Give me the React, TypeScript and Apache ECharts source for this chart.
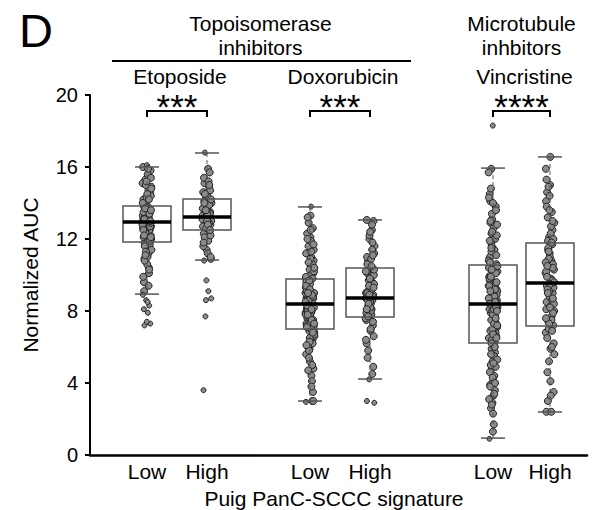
import React, { useEffect, useRef } from "react";
import * as echarts from "echarts";

// ---- Data -------------------------------------------------------------
const groupLabels = ["Low", "High", "Low", "High", "Low", "High"];
const groupPositions = [57, 117, 220, 280, 403, 460];
const drugNames = ["Etoposide", "Doxorubicin", "Vincristine"];
const significance = ["***", "***", "****"];
const yTicks = [0, 4, 8, 12, 16, 20];

// box statistics: lower whisker, Q1, median, Q3, upper whisker
const lowerWhisker = [8.94, 10.83, 3.0, 4.22, 0.94, 2.39];
const quartile1 = [11.83, 12.5, 7.0, 7.67, 6.22, 7.17];
const medians = [12.94, 13.22, 8.39, 8.72, 8.39, 9.56];
const quartile3 = [13.83, 14.22, 9.78, 10.39, 10.56, 11.78];
const upperWhisker = [16.0, 16.78, 13.78, 13.06, 15.94, 16.56];

const etoposideLow = [12.9, 13.4, 11.8, 14.6, 12.2, 13.1, 10.4, 15.3, 12.7, 13.8, 9.1, 12.5, 14.1, 13.3, 11.2, 12.8, 15.8, 13.6, 12.1, 8.3, 13.0, 14.9, 12.4, 10.9, 13.5, 12.6, 16.0, 11.5, 13.2, 14.4, 12.9, 9.6, 13.7, 12.3, 15.1, 11.9, 13.0, 7.3, 12.6, 14.2, 10.1, 13.4, 12.0, 15.6, 13.1, 11.7, 12.8, 8.9, 14.7, 13.3, 12.2, 10.6, 13.9, 12.5, 15.0, 11.4, 13.6, 7.2, 12.7, 14.3, 9.9, 13.2, 12.4, 15.4, 11.0, 13.8, 12.0, 8.6, 14.0, 13.0, 11.6, 12.9, 16.1, 13.5, 10.3, 12.3, 14.8, 7.9, 13.1, 11.9, 15.2, 12.6, 9.4, 13.7, 12.1, 14.5, 8.1, 13.4, 11.3, 12.8, 15.9, 10.8, 13.0, 7.4, 12.5, 14.2, 11.1, 13.6, 8.5, 12.2];
const etoposideHigh = [13.2, 14.0, 12.6, 15.1, 13.5, 11.4, 14.6, 12.9, 13.8, 10.9, 13.1, 15.4, 12.4, 14.3, 13.3, 11.9, 16.8, 12.8, 13.6, 3.6, 14.9, 12.5, 13.0, 11.2, 14.1, 13.4, 9.7, 12.7, 15.2, 13.2, 11.0, 14.4, 12.3, 13.9, 8.6, 13.1, 15.9, 12.1, 14.7, 13.5, 11.6, 12.9, 7.7, 14.2, 13.3, 10.8, 15.7, 12.6, 13.7, 9.1, 14.5, 12.2, 13.0, 11.8, 15.0, 13.6, 8.7, 12.8, 14.0, 12.5];
const doxorubicinLow = [8.4, 9.1, 6.8, 10.5, 7.6, 8.9, 5.9, 11.2, 8.0, 9.6, 7.2, 12.1, 8.6, 6.4, 9.3, 7.9, 13.8, 8.2, 10.1, 5.2, 8.7, 7.4, 11.6, 9.0, 6.9, 8.3, 12.6, 7.7, 9.8, 4.4, 8.5, 10.8, 7.1, 8.1, 3.0, 9.4, 6.6, 11.9, 8.8, 7.5, 10.3, 5.6, 8.4, 9.2, 7.0, 13.3, 8.0, 6.2, 9.7, 7.8, 11.0, 8.6, 4.8, 9.5, 7.3, 8.2, 12.9, 6.7, 10.0, 8.9, 3.5, 7.6, 9.9, 8.3, 6.0, 11.4, 8.5, 7.2, 10.6, 5.4, 9.0, 7.9, 13.2, 8.7, 6.5, 9.6, 4.1, 8.1, 10.2, 7.4, 12.3, 8.4, 6.9, 9.3, 3.8, 8.0, 11.7, 7.7, 9.1, 5.0, 8.6, 10.4, 7.0, 12.0, 8.8, 6.3, 9.4, 7.5, 4.7, 8.2, 10.9, 7.1, 9.8, 5.8, 8.5, 11.3, 7.8, 3.0, 9.2, 6.1, 8.9, 10.7, 7.3, 12.5, 8.3, 6.8, 9.7, 2.95, 8.1, 9.0];
const doxorubicinHigh = [8.7, 9.6, 7.9, 11.2, 8.4, 10.1, 7.2, 12.0, 9.0, 8.1, 10.8, 6.6, 9.3, 13.06, 8.6, 7.7, 11.6, 9.9, 5.4, 8.9, 10.4, 7.5, 12.5, 8.3, 9.5, 6.9, 11.0, 8.8, 4.2, 10.2, 7.8, 9.1, 13.0, 8.5, 6.2, 11.4, 9.7, 2.9, 8.0, 10.6, 7.4, 12.2, 8.7, 9.2, 5.8, 10.0, 8.2, 3.0, 11.8, 9.4, 7.6, 10.9, 8.6, 4.9, 9.8, 7.9, 12.8, 8.4, 10.3, 7.0, 9.0, 11.1, 8.9, 6.4, 10.5, 7.7, 9.3, 12.4, 8.1, 4.5];
const vincristineLow = [8.4, 10.9, 5.7, 12.3, 7.1, 9.6, 3.9, 13.8, 8.0, 6.5, 11.4, 2.6, 9.2, 7.6, 14.5, 8.8, 4.8, 10.2, 6.1, 12.9, 8.3, 5.2, 9.9, 7.3, 15.9, 8.6, 3.3, 11.0, 6.8, 13.1, 9.4, 4.4, 7.9, 10.6, 1.3, 8.1, 12.0, 5.9, 9.1, 7.0, 14.1, 8.5, 2.9, 10.4, 6.3, 11.8, 8.9, 4.1, 9.7, 7.4, 13.4, 8.2, 5.5, 10.0, 6.6, 18.3, 8.7, 3.6, 11.3, 7.2, 12.6, 9.3, 4.9, 8.0, 10.8, 6.0, 14.8, 8.4, 2.3, 9.8, 7.7, 11.6, 5.3, 8.9, 6.9, 13.6, 9.0, 3.1, 10.3, 7.5, 12.2, 8.3, 4.6, 9.5, 6.4, 15.7, 8.6, 5.0, 11.1, 7.8, 0.9, 9.2, 6.2, 12.8, 8.1, 3.8, 10.1, 7.0, 14.3, 8.8, 5.6, 9.6, 6.7, 11.9, 8.5, 2.8, 10.5, 7.3, 13.0, 8.2, 4.3, 9.4, 6.0, 11.5, 8.0, 5.1, 10.7, 7.6, 12.4, 8.7, 3.4, 9.9, 6.5, 14.0, 8.4, 4.0, 10.3, 7.2, 1.7, 9.1];
const vincristineHigh = [9.6, 11.2, 8.1, 13.5, 7.4, 10.3, 5.9, 14.6, 9.0, 12.1, 6.8, 10.8, 3.0, 9.3, 15.0, 8.5, 11.7, 7.0, 12.9, 9.8, 4.6, 10.6, 8.8, 14.1, 7.7, 11.4, 6.2, 16.56, 9.4, 12.5, 5.2, 10.1, 8.3, 13.2, 7.2, 11.0, 2.4, 9.7, 14.9, 8.0, 12.3, 6.5, 10.4, 9.1, 15.9, 7.5, 11.9, 3.5, 9.5, 13.8, 8.6, 10.9, 5.6, 12.7, 9.2, 7.9, 14.4, 10.2, 6.0, 11.5, 8.4, 4.1, 9.9, 13.0, 7.3, 10.7, 2.4, 9.0, 12.0, 8.2, 15.3, 6.9, 11.3, 9.6, 3.3, 10.5, 8.7, 13.6, 7.6, 11.8];

const groupValues = [etoposideLow, etoposideHigh, doxorubicinLow, doxorubicinHigh, vincristineLow, vincristineHigh];

// ---- Styling constants -----------------------------------------------
const FONT = "'Liberation Sans', Arial, Helvetica, sans-serif";
const BOX_WIDTH = 48;
const JITTER = 9;

export default function App() {
  const ref = useRef<HTMLDivElement>(null);

  useEffect(() => {
    if (!ref.current) return;
    const chart = echarts.init(ref.current, undefined, { renderer: "svg" });

    const boxData = groupPositions.map((p, i) => [
      p,
      lowerWhisker[i],
      quartile1[i],
      medians[i],
      quartile3[i],
      upperWhisker[i],
    ]);

    const scatterSeries = groupValues.map((vals, g) => ({
      type: "scatter",
      z: 2,
      symbol: "circle",
      symbolSize: (v: number[]) =>
        v[1] < lowerWhisker[g] - 0.01 || v[1] > upperWhisker[g] + 0.01 ? 5 : 7,
      itemStyle: { color: "#8a8a8a", borderColor: "#222", borderWidth: 1, opacity: 1 },
      data: vals.map((v, i) => {
        const frac = (i * 0.6180339887 + g * 0.37) % 1;
        return [groupPositions[g] + (frac - 0.5) * JITTER, v];
      }),
      silent: true,
    }));

    const option: any = {
      animation: false,
      grid: { left: 90, right: 17, top: 95, bottom: 55, outerBoundsMode: "none" },
      xAxis: {
        type: "value",
        min: 0,
        max: 497,
        axisLine: { show: true, lineStyle: { color: "#000", width: 2.5 } },
        axisTick: { show: false },
        splitLine: { show: false },
        axisLabel: {
          customValues: groupPositions,
          formatter: (v: number) => {
            const idx = groupPositions.findIndex((p) => Math.abs(p - v) < 0.5);
            return idx >= 0 ? groupLabels[idx] : "";
          },
          color: "#000",
          fontSize: 21,
          fontFamily: FONT,
          margin: 6,
        },
      },
      yAxis: {
        type: "value",
        min: 0,
        max: 20,
        interval: 4,
        name: "Normalized AUC",
        nameLocation: "middle",
        nameGap: 49,
        nameTextStyle: { color: "#000", fontSize: 21, fontFamily: FONT },
        axisLine: { show: true, lineStyle: { color: "#000", width: 2 } },
        axisTick: { show: true, inside: false, length: 5, lineStyle: { color: "#000", width: 2 } },
        splitLine: { show: false },
        axisLabel: {
          customValues: yTicks,
          color: "#000",
          fontSize: 20,
          fontFamily: FONT,
          margin: 12,
        },
      },
      series: [
        ...scatterSeries,
        {
          type: "custom",
          z: 3,
          silent: true,
          data: boxData,
          encode: { x: 0, y: [1, 2, 3, 4, 5] },
          renderItem: (params: any, api: any) => {
            const x = api.value(0);
            const pLo = api.coord([x, api.value(1)]);
            const pQ1 = api.coord([x, api.value(2)]);
            const pMed = api.coord([x, api.value(3)]);
            const pQ3 = api.coord([x, api.value(4)]);
            const pHi = api.coord([x, api.value(5)]);
            const cx = pMed[0];
            const half = api.size([BOX_WIDTH, 0])[0] / 2;
            const cap = half / 2;
            const grey = "#555";
            return {
              type: "group",
              children: [
                { type: "line", shape: { x1: cx, y1: pHi[1], x2: cx, y2: pQ3[1] }, style: { stroke: grey, lineWidth: 1, lineDash: [4, 3] } },
                { type: "line", shape: { x1: cx, y1: pQ1[1], x2: cx, y2: pLo[1] }, style: { stroke: grey, lineWidth: 1, lineDash: [4, 3] } },
                { type: "line", shape: { x1: cx - cap, y1: pHi[1], x2: cx + cap, y2: pHi[1] }, style: { stroke: grey, lineWidth: 1.5 } },
                { type: "line", shape: { x1: cx - cap, y1: pLo[1], x2: cx + cap, y2: pLo[1] }, style: { stroke: grey, lineWidth: 1.5 } },
                { type: "rect", shape: { x: cx - half, y: pQ3[1], width: half * 2, height: pQ1[1] - pQ3[1] }, style: { fill: "rgba(0,0,0,0)", stroke: grey, lineWidth: 1.5 } },
                { type: "line", shape: { x1: cx - half, y1: pMed[1], x2: cx + half, y2: pMed[1] }, style: { stroke: "#000", lineWidth: 3.5 } },
              ],
            };
          },
        },
      ],
    };

    chart.setOption(option);

    const px = (v: number) => chart.convertToPixel({ gridIndex: 0 }, [v, 0])[0];
    const text = (t: string, x: number, y: number, size: number, align = "center") => ({
      type: "text",
      x,
      y,
      silent: true,
      style: { text: t, fill: "#000", font: `${size}px ${FONT}`, textAlign: align, textVerticalAlign: "middle" },
    });

    const graphics: any[] = [];
    graphics.push(text("D", 19, 30, 47, "left"));
    const topoCenter = (px(groupPositions[0]) + px(groupPositions[3])) / 2 + 2;
    graphics.push(text("Topoisomerase", topoCenter, 23, 21));
    graphics.push(text("inhibitors", topoCenter, 47, 21));
    const mtCenter = (px(groupPositions[4]) + px(groupPositions[5])) / 2;
    graphics.push(text("Microtubule", mtCenter, 23, 21));
    graphics.push(text("inhbitors", mtCenter, 47, 21));
    graphics.push({
      type: "line",
      silent: true,
      shape: { x1: 112, y1: 61, x2: 411, y2: 61 },
      style: { stroke: "#000", lineWidth: 2 },
    });
    for (let d = 0; d < 3; d++) {
      const x1 = px(groupPositions[d * 2]);
      const x2 = px(groupPositions[d * 2 + 1]);
      const c = (x1 + x2) / 2;
      graphics.push(text(drugNames[d], c + 3, 76, 21));
      graphics.push(text(significance[d], c, 106, 35));
      graphics.push({
        type: "polyline",
        silent: true,
        shape: { points: [[x1, 117], [x1, 111], [x2, 111], [x2, 117]] },
        style: { stroke: "#000", lineWidth: 2, fill: null },
      });
    }
    graphics.push(text("Puig PanC-SCCC signature", 334, 498, 21));

    chart.setOption({ graphic: graphics });

    return () => chart.dispose();
  }, []);

  return (
    <div
      ref={ref}
      style={{ position: "fixed", left: 0, top: 0, width: 604, height: 510, background: "#fff" }}
    />
  );
}
